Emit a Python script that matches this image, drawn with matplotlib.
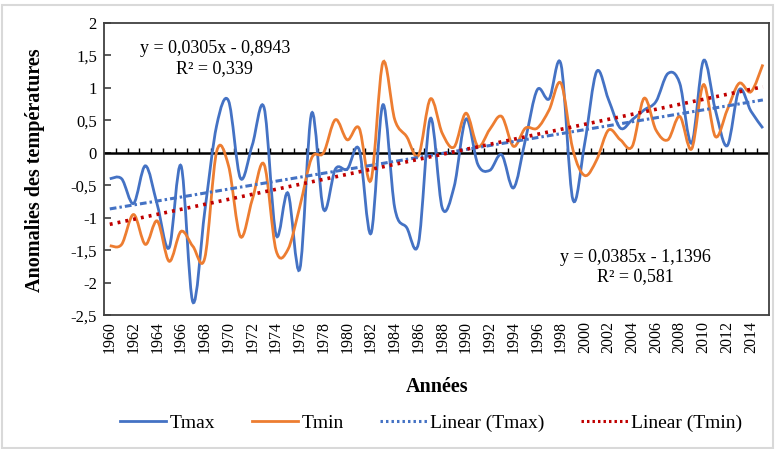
import numpy as np
import matplotlib.pyplot as plt
from matplotlib.path import Path
from matplotlib.patches import PathPatch, Rectangle
from matplotlib.lines import Line2D

plt.rcParams['font.family'] = ['Liberation Serif', 'DejaVu Serif']

# ---- data ----
years = np.arange(1960, 2016)
tmax = [-0.40, -0.40, -0.78, -0.20, -0.80, -1.46, -0.20, -2.30, -0.90, 0.42,
        0.80, -0.39, 0.12, 0.69, -1.26, -0.62, -1.79, 0.61, -0.87, -0.25,
        -0.25, 0.05, -1.24, 0.74, -0.85, -1.15, -1.39, 0.53, -0.85, -0.52,
        0.52, -0.18, -0.27, -0.03, -0.54, 0.20, 0.97, 0.83, 1.36, -0.72,
        0.15, 1.25, 0.82, 0.38, 0.51, 0.66, 0.79, 1.22, 1.07, 0.15,
        1.42, 0.66, 0.11, 0.97, 0.64, 0.38]
tmin = [-1.43, -1.41, -0.95, -1.41, -1.05, -1.67, -1.21, -1.44, -1.62, 0.02,
        -0.20, -1.29, -0.72, -0.18, -1.50, -1.49, -0.83, -0.08, 0.00, 0.51,
        0.20, 0.38, -0.42, 1.39, 0.51, 0.25, -0.04, 0.83, 0.30, 0.09,
        0.61, 0.10, 0.36, 0.56, 0.10, 0.38, 0.38, 0.66, 1.07, 0.05,
        -0.35, -0.11, 0.35, 0.20, 0.10, 0.84, 0.35, 0.20, 0.56, 0.06,
        1.05, 0.25, 0.66, 1.07, 0.94, 1.36]

# trend lines as printed on the chart (x = 1..n)
trend_tmax = (0.0305, -0.8943)
trend_tmin = (0.0385, -1.1396)

blue = '#4472C4'
orange = '#ED7D31'
red = '#C00000'


def smooth_path(x, y):
    # cubic bezier through every point, like Excel "smoothed line"
    pts = np.column_stack([x, y])
    verts = [pts[0]]
    codes = [Path.MOVETO]
    n = len(pts)
    for i in range(n - 1):
        p0 = pts[i - 1] if i > 0 else pts[i]
        p1 = pts[i]
        p2 = pts[i + 1]
        p3 = pts[i + 2] if i + 2 < n else pts[i + 1]
        c1 = p1 + (p2 - p0) / 6.0
        c2 = p2 - (p3 - p1) / 6.0
        verts += [c1, c2, p2]
        codes += [Path.CURVE4] * 3
    return Path(verts, codes)


fig = plt.figure(figsize=(7.75, 4.49), dpi=100)
ax = fig.add_axes([0.134, 0.298, 0.858, 0.651])

idx = np.arange(len(years))
ax.add_patch(PathPatch(smooth_path(idx, tmax), facecolor='none',
                       edgecolor=blue, lw=2.0, zorder=3))
ax.add_patch(PathPatch(smooth_path(idx, tmin), facecolor='none',
                       edgecolor=orange, lw=2.0, zorder=3))

xn = idx + 1
ax.plot(idx, trend_tmax[0] * xn + trend_tmax[1], color=blue, lw=2.2,
        linestyle=(0, (2.2, 1.0, 0.8, 1.0)), zorder=4)
ax.plot(idx, trend_tmin[0] * xn + trend_tmin[1], color=red, lw=2.6,
        linestyle=(0, (0.8, 1.4)), zorder=4)

# zero axis with small category ticks
ax.axhline(0, color='black', lw=1.8, zorder=2)
ax.vlines(idx[:-1] + 0.5, 0, 0.08, color='black', lw=1.0, zorder=2)

ax.set_xlim(-0.5, len(years) - 0.5)
ax.set_ylim(-2.5, 2)
yt = np.arange(-2.5, 2.01, 0.5)
ax.set_yticks(yt)
ax.set_yticklabels([('%g' % v).replace('.', ',') for v in yt], fontsize=12)
ax.tick_params(axis='y', direction='in', length=5, width=1.2, colors='#404040',
               labelcolor='black', pad=5)
ax.set_xticks(idx[::2])
ax.set_xticklabels([str(y) for y in years[::2]], rotation=90, fontsize=11.5)
ax.tick_params(axis='x', length=0, pad=4)
for s in ax.spines.values():
    s.set_color('#404040')
    s.set_linewidth(1.3)

ax.text(0.167, 0.878, 'y = 0,0305x - 0,8943\nR² = 0,339', transform=ax.transAxes,
        ha='center', va='center', fontsize=13, linespacing=1.2)
ax.text(0.80, 0.165, 'y = 0,0385x - 1,1396\nR² = 0,581', transform=ax.transAxes,
        ha='center', va='center', fontsize=13, linespacing=1.2)

fig.text(0.045, 0.62, 'Anomalies des températures', rotation=90, ha='center',
         va='center', fontsize=14.5, fontweight='bold')
fig.text(0.564, 0.138, 'Années', ha='center', va='center', fontsize=14.5,
         fontweight='bold')

handles = [
    Line2D([], [], color=blue, lw=2),
    Line2D([], [], color=orange, lw=2),
    Line2D([], [], color=blue, lw=2.2, linestyle=(0, (0.8, 1.0))),
    Line2D([], [], color=red, lw=2.2, linestyle=(0, (0.8, 1.0))),
]
fig.legend(handles, ['Tmax', 'Tmin', 'Linear (Tmax)', 'Linear (Tmin)'],
           loc='center', bbox_to_anchor=(0.556, 0.058), ncol=4, frameon=False,
           fontsize=14, handlelength=2.4, columnspacing=1.9, handletextpad=0.15)

fig.patches.append(Rectangle((0.003, 0.003), 0.994, 0.985, transform=fig.transFigure,
                             fill=False, edgecolor='#d9d9d9', lw=1.5))

fig.savefig('out.png', dpi=100)
